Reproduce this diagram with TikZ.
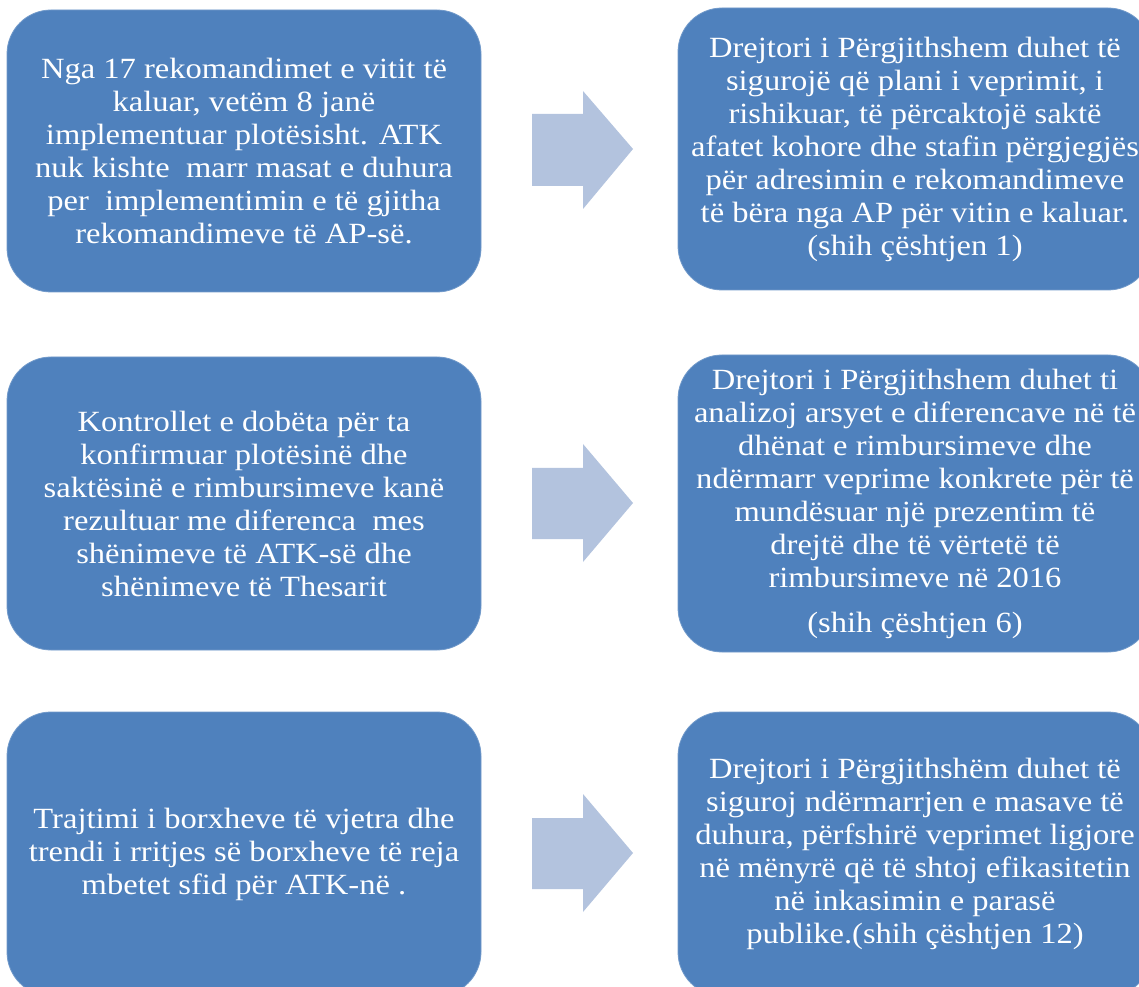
\documentclass[tikz,border=0pt]{standalone}
\usepackage{fontspec}
\setmainfont[FakeStretch=1.11]{Liberation Serif}
\definecolor{boxblue}{RGB}{79,129,189}
\definecolor{arrowblue}{RGB}{179,195,222}
\begin{document}
\begin{tikzpicture}[x=0.75pt,y=-0.75pt,
  box/.style={fill=boxblue, draw=boxblue!80!white, line width=0.6pt, rounded corners=33pt,
    minimum width=355.5pt, inner sep=0pt, text=white, align=center,
    font=\fontsize{22}{24.75}\selectfont},
  blockarrow/.style={fill=arrowblue}]
\useasboundingbox (0,0) rectangle (1139,987);
\begin{scope}
\clip (0,0) rectangle (1139,987);
% left column
\node[box, minimum height=211.5pt] (L1) at (244,151) {Nga 17 rekomandimet e vitit të\\kaluar, vetëm 8 janë\\implementuar plotësisht. ATK\\nuk kishte\ \ marr masat e duhura\\per\ \ implementimin e të gjitha\\rekomandimeve të AP-së.};
\node[box, minimum height=219.75pt] (L2) at (244,503.5) {Kontrollet e dobëta për ta\\konfirmuar plotësinë dhe\\saktësinë e rimbursimeve kanë\\rezultuar me diferenca\ \ mes\\shënimeve të ATK-së dhe\\shënimeve të Thesarit};
\node[box, minimum height=213pt] (L3) at (244,854) {Trajtimi i borxheve të vjetra dhe\\trendi i rritjes së borxheve të reja\\mbetet sfid për ATK-në .};
% right column
\node[box, minimum height=211.5pt] (R1) at (915,149) {Drejtori i Përgjithshem duhet të\\sigurojë që plani i veprimit, i\\rishikuar, të përcaktojë saktë\\afatet kohore dhe stafin përgjegjës\\për adresimin e rekomandimeve\\të bëra nga AP për vitin e kaluar.\\(shih çështjen 1)};
\node[box, minimum height=222.75pt] (R2) at (915,503.5) {Drejtori i Përgjithshem duhet ti\\analizoj arsyet e diferencave në të\\dhënat e rimbursimeve dhe\\ndërmarr veprime konkrete për të\\mundësuar një prezentim të\\drejtë dhe të vërtetë të\\rimbursimeve në 2016\\[9pt](shih çështjen 6)};
\node[box, minimum height=213pt] (R3) at (915,854) {Drejtori i Përgjithshëm duhet të\\siguroj ndërmarrjen e masave të\\duhura, përfshirë veprimet ligjore\\në mënyrë që të shtoj efikasitetin\\në inkasimin e parasë\\publike.(shih çështjen 12)};
\end{scope}
% block arrows
\fill[blockarrow] (532,114) -- (583,114) -- (583,91) -- (633,149) -- (583,209) -- (583,186) -- (532,186) -- cycle;
\fill[blockarrow] (532,468) -- (583,468) -- (583,444) -- (633,503) -- (583,562) -- (583,539) -- (532,539) -- cycle;
\fill[blockarrow] (532,818) -- (583,818) -- (583,794) -- (633,853) -- (583,912) -- (583,889) -- (532,889) -- cycle;
\end{tikzpicture}
\end{document}
